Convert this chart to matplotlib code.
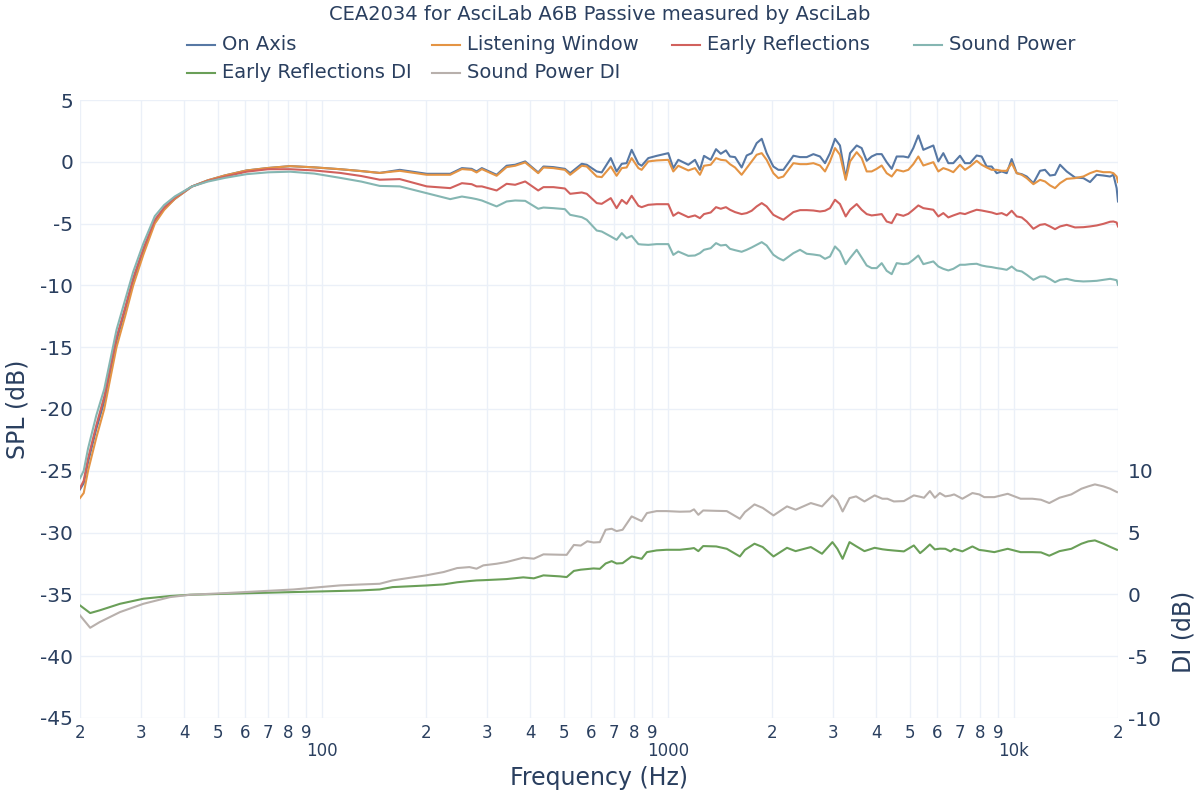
import matplotlib
matplotlib.use("Agg")
import matplotlib.pyplot as plt
from matplotlib.lines import Line2D
from matplotlib.ticker import FixedLocator, FixedFormatter

plt.rcParams['font.family'] = ['DejaVu Sans']
plt.rcParams['axes.unicode_minus'] = False

TEXT = "#2a3f5f"
GRID = "#ebf0f8"
COLORS = {
    "On Axis": "#5778a4",
    "Listening Window": "#e49444",
    "Early Reflections": "#d1615d",
    "Sound Power": "#85b6b2",
    "Early Reflections DI": "#6a9f58",
    "Sound Power DI": "#b8b0ac",
}

# frequency grid for the SPL curves (Hz)
freq = [20, 20.5, 21.1, 22.3, 23.5, 25.5, 27.0, 28.5, 30.5, 32.9, 35.0, 37.6, 42.1, 46.8, 52.5,
        60.6, 70, 81, 95, 113, 130, 147,
        168, 201, 235, 254, 271, 280, 290, 320, 342, 362, 387, 422, 437, 467, 504, 522, 564, 583,
        623, 644, 684, 711, 736, 760, 786, 822, 840, 878, 928, 1003, 1037, 1072, 1146, 1198, 1238,
        1272, 1330, 1378, 1422, 1472,
        1512, 1564, 1634, 1690, 1747, 1806, 1868, 1930, 2018, 2086,
        2157, 2306, 2410, 2520, 2634, 2752, 2846, 2942, 3042, 3144,
        3266, 3362, 3514, 3632, 3756, 3882, 4014, 4150, 4290, 4436,
        4586, 4794, 4954, 5122, 5296, 5476, 5852, 6050, 6254, 6466,
        6684, 6988, 7224, 7470, 7808, 8072, 8346, 8628, 8922, 9224,
        9536, 9858, 10192, 10538, 10894, 11388, 11904, 12304, 12722, 13152,
        13598, 14216, 15024, 15882, 16604, 17356, 18146, 18972, 19396, 19820, 20000]

on_axis = [-26.5, -26.0, -24.3, -21.6, -19.4, -14.5, -12.0, -9.6, -7.2, -4.8, -3.8, -3.0, -2.0, -1.5, -1.1,
           -0.7, -0.5, -0.35, -0.45, -0.6, -0.75, -0.9,
           -0.65, -0.97, -0.97, -0.51, -0.57, -0.78, -0.51, -1.05, -0.32, -0.24, 0.03, -0.86, -0.38, -0.43,
           -0.57, -0.92, -0.16, -0.24, -0.78, -0.86, 0.30, -0.78, -0.16, -0.11, 0.97, -0.16, -0.32, 0.30,
           0.48, 0.70, -0.51, 0.16, -0.24, 0.16, -0.65, 0.48, 0.16, 1.02, 0.65, 0.92,
           0.43, 0.38, -0.46, 0.51, 0.70, 1.51, 1.86, 0.70, -0.38, -0.65,
           -0.65, 0.49, 0.38, 0.38, 0.62, 0.43, -0.11, 0.70, 1.86, 1.32,
           -1.32, 0.70, 1.32, 1.11, 0.08, 0.43, 0.62, 0.62, -0.03, -0.57,
           0.43, 0.43, 0.35, 1.11, 2.13, 0.97, 1.32, 0.03, 0.70, -0.11,
           -0.11, 0.49, -0.11, -0.11, 0.51, 0.43, -0.38, -0.38, -0.92, -0.78,
           -0.92, 0.22, -0.92, -1.00, -1.19, -1.73, -0.73, -0.65, -1.11, -1.05,
           -0.24, -0.78, -1.27, -1.32, -1.64, -1.05, -1.11, -1.19, -1.05, -2.13, -3.21]

listening_window = [-27.2, -26.8, -25.0, -22.3, -20.0, -15.0, -12.5, -10.0, -7.5, -5.0, -3.9, -3.0, -2.0, -1.5, -1.1,
                    -0.7, -0.5, -0.35, -0.45, -0.6, -0.75, -0.9,
                    -0.73, -1.05, -1.05, -0.59, -0.65, -0.86, -0.59, -1.13, -0.43, -0.32, -0.05, -0.92, -0.46, -0.51,
                    -0.65, -1.05, -0.32, -0.38, -1.19, -1.24, -0.38, -1.13, -0.51, -0.46, 0.30, -0.51, -0.65, 0.03,
                    0.11, 0.16, -0.78, -0.32, -0.70, -0.51, -1.05, -0.32, -0.24, 0.30, 0.16, 0.11,
                    -0.19, -0.46, -1.05, -0.51, 0.03, 0.57, 0.70, 0.16, -0.92, -1.32,
                    -1.19, -0.11, -0.19, -0.19, -0.11, -0.30, -0.78, 0.03, 1.11, 0.57,
                    -1.46, 0.03, 0.78, 0.30, -0.78, -0.78, -0.57, -0.30, -0.92, -1.19,
                    -0.65, -0.78, -0.65, -0.19, 0.43, -0.30, -0.03, -0.78, -0.51, -0.65,
                    -0.84, -0.24, -0.65, -0.38, 0.08, -0.24, -0.46, -0.65, -0.65, -0.73,
                    -0.73, -0.11, -0.92, -1.05, -1.32, -1.81, -1.46, -1.59, -1.91, -2.13,
                    -1.73, -1.38, -1.32, -1.19, -0.92, -0.73, -0.84, -0.84, -0.92, -1.19, -1.64]

early_reflections = [-26.4, -25.8, -24.0, -21.3, -19.0, -14.2, -11.8, -9.4, -7.0, -4.7, -3.7, -2.9, -2.0, -1.55, -1.2,
                     -0.8, -0.6, -0.6, -0.7, -0.9, -1.15, -1.45,
                     -1.40, -1.99, -2.13, -1.73, -1.81, -1.99, -1.99, -2.32, -1.78, -1.86, -1.59, -2.32, -2.05, -2.05,
                     -2.16, -2.59, -2.48, -2.59, -3.34, -3.40, -2.94, -3.75, -3.08, -3.40, -2.75, -3.56, -3.67, -3.48,
                     -3.43, -3.43, -4.37, -4.10, -4.48, -4.34, -4.56, -4.23, -4.10, -3.67, -3.80, -3.67,
                     -3.88, -4.07, -4.23, -4.15, -3.96, -3.61, -3.34, -3.61, -4.29, -4.50,
                     -4.69, -4.07, -3.91, -3.91, -3.94, -4.02, -3.96, -3.75, -3.07, -3.42,
                     -4.42, -3.88, -3.42, -3.88, -4.23, -4.34, -4.29, -4.23, -4.83, -4.96,
                     -4.23, -4.37, -4.21, -3.88, -3.53, -3.75, -3.88, -4.42, -4.15, -4.50,
                     -4.34, -4.15, -4.23, -4.07, -3.88, -3.94, -4.02, -4.10, -4.23, -4.15,
                     -4.34, -3.96, -4.42, -4.50, -4.83, -5.42, -5.10, -5.04, -5.23, -5.45,
                     -5.23, -5.10, -5.31, -5.29, -5.23, -5.15, -5.02, -4.85, -4.83, -4.91, -5.23]

sound_power = [-25.6, -25.0, -23.2, -20.5, -18.4, -13.6, -11.2, -8.9, -6.6, -4.4, -3.5, -2.8, -2.0, -1.6, -1.3,
               -1.0, -0.85, -0.8, -0.95, -1.3, -1.6, -1.95,
               -1.99, -2.54, -3.02, -2.81, -2.94, -3.02, -3.13, -3.61, -3.21, -3.13, -3.16, -3.80, -3.70, -3.75,
               -3.83, -4.29, -4.48, -4.69, -5.56, -5.64, -6.04, -6.31, -5.77, -6.18, -5.99, -6.66, -6.69, -6.72,
               -6.66, -6.66, -7.53, -7.26, -7.61, -7.58, -7.39, -7.12, -6.99, -6.58, -6.77, -6.72,
               -7.04, -7.15, -7.28, -7.12, -6.93, -6.72, -6.50, -6.77, -7.52, -7.79,
               -7.98, -7.39, -7.12, -7.44, -7.50, -7.58, -7.85, -7.66, -6.85, -7.25,
               -8.28, -7.79, -7.12, -7.74, -8.39, -8.60, -8.60, -8.20, -8.82, -9.09,
               -8.20, -8.28, -8.23, -7.93, -7.58, -8.28, -8.06, -8.47, -8.66, -8.79,
               -8.66, -8.33, -8.33, -8.28, -8.25, -8.39, -8.47, -8.52, -8.60, -8.66,
               -8.74, -8.47, -8.79, -8.87, -9.14, -9.55, -9.28, -9.28, -9.49, -9.74,
               -9.55, -9.47, -9.63, -9.68, -9.66, -9.63, -9.55, -9.47, -9.52, -9.58, -9.95]

# frequency grid for the directivity index curves (Hz)
di_freq = [20, 21.4, 22.8, 26.1, 30.5, 36.4, 41.6, 53, 83, 99, 113, 129, 147, 160, 200, 225, 246, 267, 280, 293,
           320, 342, 382, 410, 437, 487, 510, 535, 560, 585, 610, 636, 661, 688, 711, 740, 786, 840, 870, 928,
           991, 1083, 1160, 1190, 1225, 1265, 1380, 1480, 1615, 1670, 1780, 1880, 2020, 2210, 2340, 2590, 2790,
           2990, 3090, 3200, 3350, 3500, 3700, 3960, 4170, 4310, 4500, 4810, 5140, 5360, 5500, 5720, 5910, 6110,
           6340, 6560, 6720, 7100, 7590, 7940, 8210, 8780, 9600, 10460, 11310, 11980, 12660, 13550, 14660,
           15680, 16410, 17150, 18150, 18980, 19860]

early_reflections_di = [-0.89, -1.51, -1.29, -0.76, -0.35, -0.13, -0.03, 0.05, 0.19, 0.24, 0.28, 0.32, 0.40, 0.59,
                        0.72, 0.81, 0.98, 1.08, 1.13, 1.15, 1.20, 1.24, 1.38, 1.30, 1.54, 1.46, 1.40, 1.90, 2.00,
                        2.05, 2.10, 2.07, 2.50, 2.69, 2.50, 2.53, 3.07, 2.88, 3.42, 3.56, 3.61, 3.61, 3.70, 3.75,
                        3.50, 3.91, 3.88, 3.69, 3.07, 3.60, 4.10, 3.83, 3.07, 3.77, 3.50, 3.83, 3.29, 4.23, 3.69,
                        2.88, 4.23, 3.90, 3.50, 3.77, 3.65, 3.60, 3.55, 3.48, 3.96, 3.34, 3.60, 4.04, 3.64, 3.70,
                        3.69, 3.48, 3.69, 3.48, 3.88, 3.60, 3.55, 3.42, 3.69, 3.42, 3.42, 3.40, 3.13, 3.50, 3.69,
                        4.10, 4.29, 4.37, 4.10, 3.85, 3.61]

sound_power_di = [-1.70, -2.70, -2.24, -1.43, -0.76, -0.22, -0.03, 0.11, 0.40, 0.59, 0.73, 0.80, 0.86, 1.13,
                  1.54, 1.81, 2.13, 2.21, 2.08, 2.35, 2.48, 2.62, 2.97, 2.89, 3.24, 3.21, 3.20, 4.00, 3.95,
                  4.30, 4.20, 4.23, 5.23, 5.31, 5.12, 5.23, 6.31, 5.93, 6.58, 6.74, 6.74, 6.69, 6.71, 6.88,
                  6.44, 6.79, 6.76, 6.74, 6.12, 6.66, 7.28, 7.00, 6.39, 7.12, 6.85, 7.39, 7.12, 8.01, 7.60,
                  6.71, 7.79, 7.93, 7.52, 8.01, 7.74, 7.74, 7.52, 7.55, 8.01, 7.90, 7.82, 8.36, 7.82, 8.20,
                  7.93, 8.00, 8.09, 7.74, 8.20, 8.09, 7.87, 7.87, 8.14, 7.74, 7.74, 7.66, 7.39, 7.82, 8.09,
                  8.55, 8.74, 8.90, 8.74, 8.55, 8.28]

minor_freqs = [20, 30, 40, 50, 60, 70, 80, 90, 200, 300, 400, 500, 600, 700, 800, 900,
               2000, 3000, 4000, 5000, 6000, 7000, 8000, 9000, 20000]
minor_labels = ["2", "3", "4", "5", "6", "7", "8", "9"] * 3 + ["2"]
major_freqs = [100, 1000, 10000]
major_labels = ["100", "1000", "10k"]

W, H = 1200, 800
fig = plt.figure(figsize=(W / 100, H / 100), dpi=100)
ax = fig.add_axes([80 / W, 1 - 718 / H, 1038 / W, 618 / H])

ax.set_xscale("log")
ax.set_xlim(20, 20000)
ax.set_ylim(-45, 5)
ax.set_yticks(range(-45, 6, 5))
ax.xaxis.set_major_locator(FixedLocator(major_freqs))
ax.xaxis.set_major_formatter(FixedFormatter(major_labels))
ax.xaxis.set_minor_locator(FixedLocator(minor_freqs))
ax.xaxis.set_minor_formatter(FixedFormatter(minor_labels))
ax.tick_params(axis="x", which="minor", labelsize=12, pad=4, length=0, colors=TEXT)
ax.tick_params(axis="x", which="major", labelsize=12, pad=17, length=0, colors=TEXT)
ax.tick_params(axis="y", labelsize=14.5, pad=5, length=0, colors=TEXT)
ax.grid(axis="x", which="both", color=GRID, lw=1)
ax.grid(axis="y", color=GRID, lw=1)
ax.set_axisbelow(True)
for s in ax.spines.values():
    s.set_visible(False)

for name, vals in [("On Axis", on_axis), ("Listening Window", listening_window),
                   ("Early Reflections", early_reflections), ("Sound Power", sound_power)]:
    ax.plot(freq, vals, color=COLORS[name], lw=1.5)

ax2 = ax.twinx()
ax2.set_ylim(-10, 40)
ax2.set_yticks(range(-10, 11, 5))
ax2.tick_params(axis="y", labelsize=14.5, pad=7, length=0, colors=TEXT)
for s in ax2.spines.values():
    s.set_visible(False)
ax2.plot(di_freq, early_reflections_di, color=COLORS["Early Reflections DI"], lw=1.5)
ax2.plot(di_freq, sound_power_di, color=COLORS["Sound Power DI"], lw=1.5)

# titles
fig.text(0.5, 1 - 15 / H, "CEA2034 for AsciLab A6B Passive measured by AsciLab",
         ha="center", va="center", fontsize=14, color=TEXT)
fig.text(18 / W, 1 - 409 / H, "SPL (dB)", rotation=90, ha="center", va="center",
         fontsize=17, color=TEXT)
fig.text(599 / W, 1 - 778 / H, "Frequency (Hz)", ha="center", va="center",
         fontsize=17, color=TEXT)
fig.text(1183 / W, 1 - 632 / H, "DI (dB)", rotation=90, ha="center", va="center",
         fontsize=17, color=TEXT)

# legend laid out like the original, two rows
legend_rows = [
    [("On Axis", 187), ("Listening Window", 432), ("Early Reflections", 672), ("Sound Power", 914)],
    [("Early Reflections DI", 187), ("Sound Power DI", 432)],
]
for row, ypx in zip(legend_rows, [45, 73]):
    yf = 1 - ypx / H
    for name, xpx in row:
        fig.add_artist(Line2D([xpx / W, (xpx + 28) / W], [yf, yf], transform=fig.transFigure,
                              color=COLORS[name], lw=1.5))
        fig.text((xpx + 35) / W, yf, name, ha="left", va="center", fontsize=14, color=TEXT)

fig.savefig("out.png", dpi=100, facecolor="white")
